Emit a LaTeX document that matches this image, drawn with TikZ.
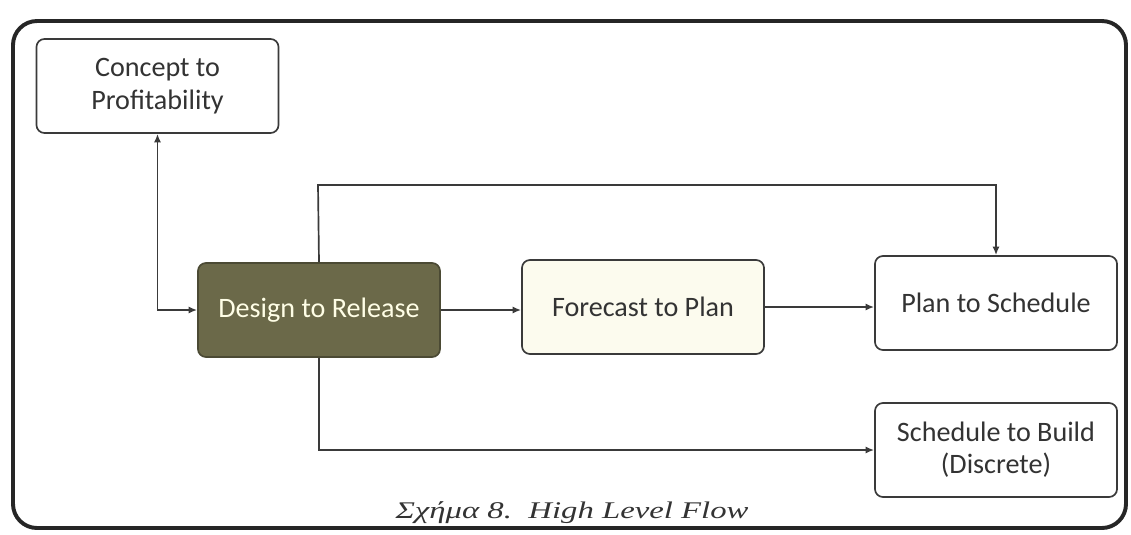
\documentclass[tikz,border=0pt]{standalone}
\usepackage{fontspec}
\setmainfont{Liberation Serif}
\newfontfamily\boxfont{Carlito}
\usetikzlibrary{arrows.meta}
\definecolor{framec}{HTML}{262626}
\definecolor{edgec}{HTML}{3a3a3a}
\definecolor{olive}{HTML}{6b6949}
\definecolor{olivedark}{HTML}{4b4a34}
\definecolor{cream}{HTML}{FCFBEE}
\definecolor{txt}{HTML}{333333}
\begin{document}
\begin{tikzpicture}[x=0.025cm,y=-0.025cm,
  procbox/.style={draw=edgec, line width=1.2pt, rounded corners=0.2cm, fill=white,
    minimum width=6.05cm, minimum height=2.35cm, align=center,
    font=\boxfont\fontsize{20}{23}\selectfont, text=txt, inner sep=2pt},
  tip/.tip={Latex[length=6pt,width=5pt]},
  flow/.style={draw=edgec, line width=1.2pt, -tip},
]
\useasboundingbox (0,0) rectangle (1131,534);
% outer frame
\draw[framec, line width=2.8pt, rounded corners=0.6cm] (13,21) rectangle (1126,528);

% process boxes
\node[procbox] (concept) at (157.5,86) {Concept to\\Profitability};
\node[procbox, fill=olive, draw=olivedark, text=white!90!yellow] (design) at (319,310) {Design to Release};
\node[procbox, fill=cream] (forecast) at (643,307) {Forecast to Plan};
\node[procbox] (plan) at (996,303) {Plan to Schedule};
\node[procbox] (build) at (996,450) {Schedule to Build\\(Discrete)};

% connectors
\draw[flow, tip-tip] (concept.south) |- (design.west);
\draw[flow] (design.east) -- (design.east -| forecast.west);
\draw[flow] (forecast.east) -- (forecast.east -| plan.west);
\coordinate (loop) at (318,185);
\draw[flow] (design.north) -- (loop) -| (plan.north);
\draw[flow] (design.south) |- (build.west);

% caption
\node[font=\itshape\fontsize{17}{19}\selectfont, text=txt, xscale=1.37, transform shape] (caption) at (572,513) {Σχήμα 8.\ \ High Level Flow};
\end{tikzpicture}
\end{document}
